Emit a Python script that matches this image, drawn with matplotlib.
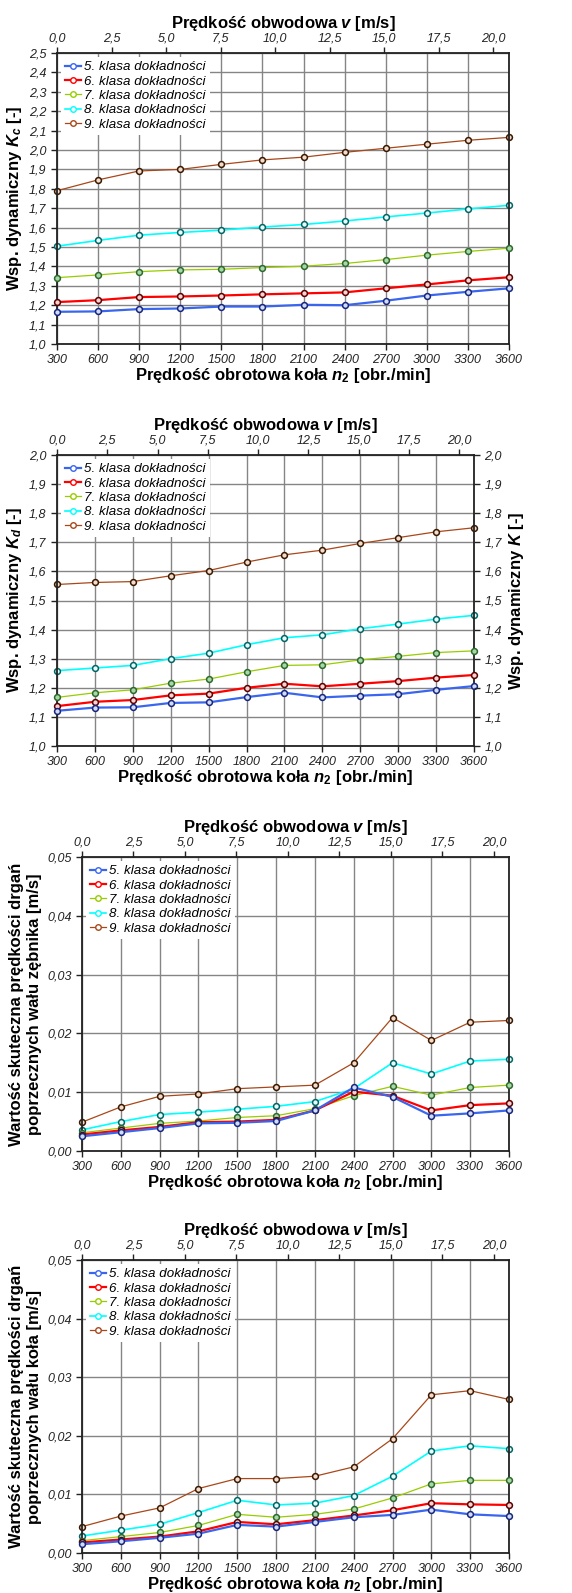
import matplotlib
matplotlib.use("Agg")
import matplotlib.pyplot as plt
from matplotlib.lines import Line2D
from matplotlib.ticker import FixedLocator, FuncFormatter

plt.rcParams['font.family'] = ['Liberation Sans', 'DejaVu Sans']
plt.rcParams['mathtext.fontset'] = 'custom'
plt.rcParams['mathtext.it'] = 'Liberation Sans:italic:bold'
plt.rcParams['mathtext.rm'] = 'Liberation Sans:bold'
plt.rcParams['mathtext.bf'] = 'Liberation Sans:bold'

# ---------------- data ----------------
n2 = [300, 600, 900, 1200, 1500, 1800, 2100, 2400, 2700, 3000, 3300, 3600]
v_ticks = [0.0, 2.5, 5.0, 7.5, 10.0, 12.5, 15.0, 17.5, 20.0]
v_max = 20.73
labels = ["5. klasa dokładności", "6. klasa dokładności", "7. klasa dokładności",
          "8. klasa dokładności", "9. klasa dokładności"]

kc_5 = [1.166, 1.168, 1.180, 1.183, 1.193, 1.193, 1.202, 1.200, 1.223, 1.250, 1.269, 1.287]
kc_6 = [1.216, 1.226, 1.242, 1.245, 1.250, 1.256, 1.261, 1.266, 1.287, 1.307, 1.328, 1.344]
kc_7 = [1.342, 1.356, 1.373, 1.382, 1.385, 1.394, 1.401, 1.415, 1.435, 1.458, 1.477, 1.494]
kc_8 = [1.504, 1.534, 1.561, 1.575, 1.587, 1.603, 1.616, 1.634, 1.655, 1.675, 1.696, 1.715]
kc_9 = [1.790, 1.846, 1.892, 1.900, 1.926, 1.949, 1.963, 1.988, 2.009, 2.030, 2.050, 2.065]

kd_5 = [1.121, 1.132, 1.133, 1.148, 1.150, 1.168, 1.183, 1.167, 1.173, 1.178, 1.193, 1.206]
kd_6 = [1.137, 1.152, 1.158, 1.174, 1.180, 1.200, 1.214, 1.205, 1.214, 1.223, 1.235, 1.244]
kd_7 = [1.167, 1.183, 1.193, 1.216, 1.230, 1.255, 1.277, 1.279, 1.296, 1.308, 1.321, 1.327]
kd_8 = [1.259, 1.268, 1.277, 1.300, 1.319, 1.348, 1.372, 1.382, 1.403, 1.419, 1.436, 1.449]
kd_9 = [1.555, 1.562, 1.565, 1.585, 1.603, 1.632, 1.657, 1.673, 1.696, 1.716, 1.736, 1.750]

vz_5 = [0.0025, 0.0032, 0.0039, 0.0047, 0.0048, 0.0051, 0.0069, 0.0108, 0.0092, 0.0060, 0.0064, 0.0069]
vz_6 = [0.0028, 0.0035, 0.0041, 0.0049, 0.0050, 0.0053, 0.0069, 0.0101, 0.0094, 0.0069, 0.0078, 0.0081]
vz_7 = [0.0031, 0.0039, 0.0047, 0.0051, 0.0057, 0.0060, 0.0072, 0.0094, 0.0110, 0.0095, 0.0108, 0.0112]
vz_8 = [0.0036, 0.0050, 0.0062, 0.0066, 0.0071, 0.0076, 0.0084, 0.0106, 0.0150, 0.0131, 0.0153, 0.0156]
vz_9 = [0.0049, 0.0075, 0.0093, 0.0097, 0.0106, 0.0109, 0.0112, 0.0150, 0.0227, 0.0188, 0.0219, 0.0222]

vk_5 = [0.0015, 0.0020, 0.0026, 0.0033, 0.0048, 0.0045, 0.0053, 0.0061, 0.0065, 0.0074, 0.0066, 0.0063]
vk_6 = [0.0018, 0.0023, 0.0028, 0.0037, 0.0053, 0.0049, 0.0056, 0.0064, 0.0073, 0.0085, 0.0083, 0.0082]
vk_7 = [0.0021, 0.0028, 0.0035, 0.0047, 0.0066, 0.0061, 0.0066, 0.0075, 0.0094, 0.0118, 0.0124, 0.0124]
vk_8 = [0.0029, 0.0039, 0.0049, 0.0069, 0.0090, 0.0082, 0.0085, 0.0098, 0.0131, 0.0174, 0.0183, 0.0178]
vk_9 = [0.0045, 0.0063, 0.0077, 0.0110, 0.0127, 0.0127, 0.0131, 0.0147, 0.0195, 0.0270, 0.0277, 0.0262]

# ---------------- styles ----------------
line_colors = ['#3a66ee', '#ff0000', '#99cc00', '#00ffff', '#a8481a']
edge_colors = ['#17257a', '#5a0000', '#2c6a2c', '#006464', '#3a1800']
face_colors = ['#d0dcff', '#ffd0d0', '#a8d8a8', '#e8ffff', '#f4dccc']
line_widths = [1.6, 1.6, 0.9, 1.2, 0.9]
grid_col = '#858585'

W, H = 572, 1593
fig = plt.figure(figsize=(W / 100, H / 100), dpi=100)


def frac(l, r, t, b):
    return [l / W, 1 - b / H, (r - l) / W, (b - t) / H]


def comma(fmt):
    return FuncFormatter(lambda x, p: (fmt % x).replace('.', ','))


def panel(rect, series, ylim, ystep_ticks, yfmt, ylabel, right_label=None, ylabel_pad=4):
    ax = fig.add_axes(rect)
    for i, s in enumerate(series):
        ax.plot(n2, s, color=line_colors[i], lw=line_widths[i], marker='o', ms=4.2,
                mfc=face_colors[i], mec=edge_colors[i], mew=1.1, zorder=5 - i, clip_on=False)
    ax.set_xlim(n2[0], n2[-1])
    ax.set_ylim(*ylim)
    ax.xaxis.set_major_locator(FixedLocator(n2))
    ax.yaxis.set_major_locator(FixedLocator(ystep_ticks))
    ax.yaxis.set_major_formatter(comma(yfmt))
    ax.grid(True, color=grid_col, lw=1.0)
    ax.set_axisbelow(True)
    for sp in ax.spines.values():
        sp.set_color('#222222')
        sp.set_linewidth(1.3)
    ax.tick_params(direction='out', length=4, width=1, colors='#222222', labelsize=9)
    for lab in ax.get_xticklabels() + ax.get_yticklabels():
        lab.set_fontstyle('italic')
    ax.set_xlabel("Prędkość obrotowa koła $n_2$ [obr./min]", fontsize=12, fontweight='bold',
                  labelpad=0)
    ax.set_ylabel(ylabel, fontsize=12, fontweight='bold', labelpad=ylabel_pad, linespacing=1.25)

    top = ax.twiny()
    top.set_xlim(0, v_max)
    top.xaxis.set_major_locator(FixedLocator(v_ticks))
    top.xaxis.set_major_formatter(comma('%.1f'))
    top.tick_params(direction='out', length=4, width=1, colors='#222222', labelsize=9, pad=2)
    for lab in top.get_xticklabels():
        lab.set_fontstyle('italic')
    top.set_xlabel("Prędkość obwodowa $v$ [m/s]", fontsize=12, fontweight='bold', labelpad=3)
    for sp in top.spines.values():
        sp.set_visible(False)

    if right_label is not None:
        rt = ax.twinx()
        rt.set_ylim(*ylim)
        rt.yaxis.set_major_locator(FixedLocator(ystep_ticks))
        rt.yaxis.set_major_formatter(comma(yfmt))
        rt.tick_params(direction='out', length=4, width=1, colors='#222222', labelsize=9)
        for lab in rt.get_yticklabels():
            lab.set_fontstyle('italic')
        rt.set_ylabel(right_label, fontsize=12, fontweight='bold', labelpad=4)
        for sp in rt.spines.values():
            sp.set_visible(False)

    handles = [Line2D([], [], color=line_colors[i], lw=line_widths[i], marker='o', ms=4,
                      mfc='white', mec=line_colors[i], mew=1.0) for i in range(5)]
    leg = ax.legend(handles, labels, loc='upper left', bbox_to_anchor=(0.0, 1.0),
                    frameon=True, fancybox=False, framealpha=1.0, edgecolor='none',
                    facecolor='white', prop={'size': 9.6, 'style': 'italic'},
                    handlelength=1.2, handletextpad=0.25, labelspacing=0.15,
                    borderpad=0.3, borderaxespad=0.3)
    leg.set_zorder(20)
    return ax


yk1 = [1.0 + 0.1 * i for i in range(16)]
yk2 = [1.0 + 0.1 * i for i in range(11)]
yk3 = [0.0, 0.01, 0.02, 0.03, 0.04, 0.05]

panel(frac(57, 509, 53, 344), [kc_5, kc_6, kc_7, kc_8, kc_9], (1.0, 2.5), yk1, '%.1f',
      "Wsp. dynamiczny $K_c$ [-]")
panel(frac(57, 474, 455, 746), [kd_5, kd_6, kd_7, kd_8, kd_9], (1.0, 2.0), yk2, '%.1f',
      "Wsp. dynamiczny $K_d$ [-]", right_label="Wsp. dynamiczny $K$ [-]")
panel(frac(82, 509, 857, 1151), [vz_5, vz_6, vz_7, vz_8, vz_9], (0.0, 0.05), yk3, '%.2f',
      "Wartość skuteczna prędkości drgań\npoprzecznych wału zębnika [m/s]")
panel(frac(82, 509, 1260, 1553), [vk_5, vk_6, vk_7, vk_8, vk_9], (0.0, 0.05), yk3, '%.2f',
      "Wartość skuteczna prędkości drgań\npoprzecznych wału koła [m/s]")

fig.savefig("out.png", dpi=100, facecolor='white')
